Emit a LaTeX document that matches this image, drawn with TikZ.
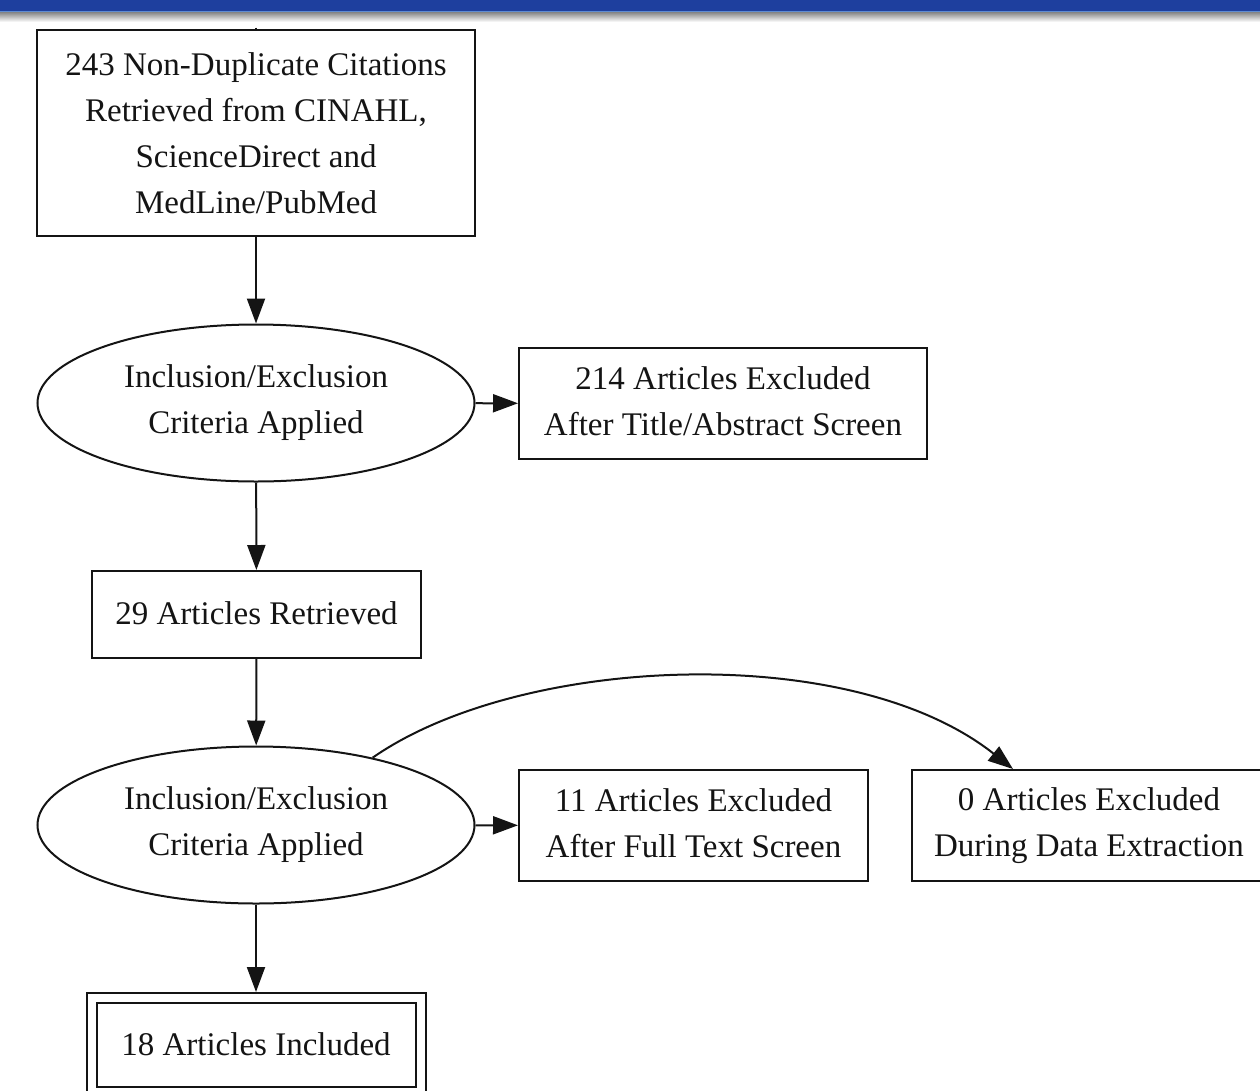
\documentclass[tikz,border=0pt]{standalone}
\usepackage{fontspec}
\setmainfont{Liberation Serif}
\usetikzlibrary{shapes.geometric,arrows.meta}
\definecolor{barblue}{RGB}{30,63,158}
\definecolor{barlight}{RGB}{95,140,210}
\definecolor{ink}{RGB}{20,20,20}
\tikzset{
  every node/.style={font=\fontsize{33}{46}\selectfont, text=ink, align=center, inner sep=0pt},
  boxnode/.style={draw=ink, line width=2pt, rectangle},
  ovalnode/.style={draw=ink, line width=2pt, ellipse},
  link/.style={draw=ink, line width=2pt, -{Triangle[length=25pt,width=18pt]}},
}
\begin{document}
\begin{tikzpicture}[x=1pt,y=-1pt]
\useasboundingbox (0,0) rectangle (1260,1090);
\clip (0,0) rectangle (1260,1090);
% top bar
\fill[barblue] (0,0) rectangle (1260,11);
\fill[barlight] (0,11) rectangle (1260,12.7);
\shade[top color=black!45, bottom color=white] (0,12.7) rectangle (1260,22);

\node[boxnode, minimum width=438pt, minimum height=206pt] (n1) at (256,133)
  {243 Non-Duplicate Citations\\Retrieved from CINAHL,\\ScienceDirect and\\MedLine/PubMed};
\node[ovalnode, minimum width=437pt, minimum height=157pt] (e1) at (256,403)
  {Inclusion/Exclusion\\Criteria Applied};
\node[boxnode, minimum width=408pt, minimum height=111pt] (r1) at (723,403.5)
  {\raisebox{2pt}{\begin{tabular}{@{}c@{}}214 Articles Excluded\\After Title/Abstract Screen\end{tabular}}};
\node[boxnode, minimum width=329pt, minimum height=87pt] (n2) at (256.5,614.5)
  {\raisebox{3pt}{29 Articles Retrieved}};
\node[ovalnode, minimum width=437pt, minimum height=157pt] (e2) at (256,825)
  {Inclusion/Exclusion\\Criteria Applied};
\node[boxnode, minimum width=349pt, minimum height=111pt] (r2) at (693.5,825.5)
  {\raisebox{2pt}{\begin{tabular}{@{}c@{}}11 Articles Excluded\\After Full Text Screen\end{tabular}}};
\node[boxnode, minimum width=354pt, minimum height=111pt] (r3) at (1089,825.5)
  {0 Articles Excluded\\During Data Extraction};
\node[boxnode, double=white, double distance=8pt, minimum width=329pt, minimum height=94pt] (n3) at (256,1045)
  {\raisebox{2pt}{18 Articles Included}};

\coordinate (stub) at (256,27.5);
\draw[draw=ink, line width=2pt] (stub) -- (n1.north);
\draw[link] (n1) -- (e1);
\draw[link] (e1) -- (r1);
\draw[link] (e1) -- (n2);
\draw[link] (n2) -- (e2);
\draw[link] (e2) -- (r2);
\draw[link] (e2.30) .. controls (520,655) and (850,640) .. ([xshift=-76pt]r3.north);
\draw[link, shorten >=5pt] (e2) -- (n3.north);
\end{tikzpicture}
\end{document}
